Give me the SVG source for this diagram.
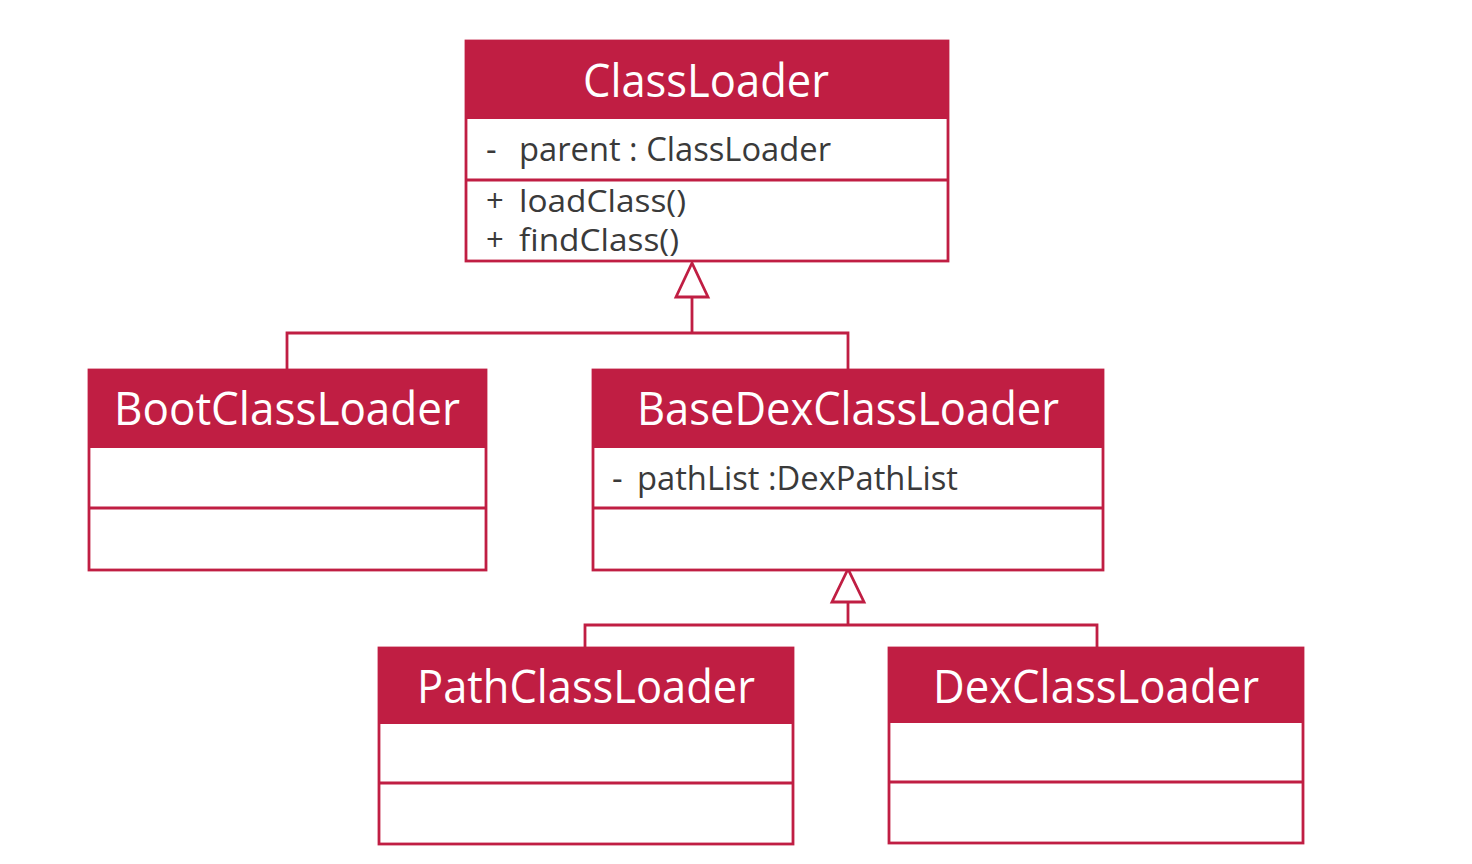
<svg xmlns="http://www.w3.org/2000/svg" width="1472" height="864" viewBox="0 0 1472 864">
<style>
.box{fill:#ffffff;stroke:#C01E43;stroke-width:2.8}
.hdr{fill:#C01E43}
.div{stroke:#C01E43;stroke-width:2.8}
.title{font-family:"Open Sans","Noto Sans",sans-serif;font-size:45px;fill:#ffffff;text-anchor:middle}
.attr{font-family:"Open Sans","Noto Sans",sans-serif;font-size:33px;fill:#3a3a3a}
.meth{font-family:"Open Sans","Noto Sans",sans-serif;font-size:31px;fill:#3a3a3a}
.conn{fill:none;stroke:#C01E43;stroke-width:2.8}
.tri{fill:#ffffff;stroke:#C01E43;stroke-width:2.8}
</style>
<rect width="1472" height="864" fill="#ffffff"/>
<g id="connectors">
<polyline class="conn" points="692,297 692,333"/>
<polyline class="conn" points="287,370 287,333 848,333 848,370"/>
<polygon class="tri" points="692,263 676,297 708,297"/>
<polyline class="conn" points="848,602 848,625"/>
<polyline class="conn" points="585,648 585,625 1097,625 1097,648"/>
<polygon class="tri" points="848,569 832,602 864,602"/>
</g>
<g id="ClassLoader">
<rect class="box" x="466" y="41" width="482" height="220"/>
<rect class="hdr" x="466" y="41" width="482" height="78"/>
<line class="div" x1="466" y1="180" x2="948" y2="180"/>
<text class="title" x="706" y="97" textLength="246" lengthAdjust="spacingAndGlyphs">ClassLoader</text>
<text class="attr" x="486" y="161">-</text>
<text class="attr" x="519" y="161" textLength="312" lengthAdjust="spacingAndGlyphs">parent : ClassLoader</text>
<text class="meth" x="486" y="212">+</text>
<text class="meth" x="519" y="212" textLength="167" lengthAdjust="spacingAndGlyphs">loadClass()</text>
<text class="meth" x="486" y="251">+</text>
<text class="meth" x="519" y="251" textLength="160" lengthAdjust="spacingAndGlyphs">findClass()</text>
</g>
<g id="BootClassLoader">
<rect class="box" x="89" y="370" width="397" height="200"/>
<rect class="hdr" x="89" y="370" width="397" height="78"/>
<line class="div" x1="89" y1="508" x2="486" y2="508"/>
<text class="title" x="287" y="425" textLength="346" lengthAdjust="spacingAndGlyphs">BootClassLoader</text>
</g>
<g id="BaseDexClassLoader">
<rect class="box" x="593" y="370" width="510" height="200"/>
<rect class="hdr" x="593" y="370" width="510" height="78"/>
<line class="div" x1="593" y1="508" x2="1103" y2="508"/>
<text class="title" x="848" y="425" textLength="422" lengthAdjust="spacingAndGlyphs">BaseDexClassLoader</text>
<text class="attr" x="612" y="490">-</text>
<text class="attr" x="637" y="490" textLength="321" lengthAdjust="spacingAndGlyphs">pathList :DexPathList</text>
</g>
<g id="PathClassLoader">
<rect class="box" x="379" y="648" width="414" height="196"/>
<rect class="hdr" x="379" y="648" width="414" height="76"/>
<line class="div" x1="379" y1="783" x2="793" y2="783"/>
<text class="title" x="586" y="703" textLength="338" lengthAdjust="spacingAndGlyphs">PathClassLoader</text>
</g>
<g id="DexClassLoader">
<rect class="box" x="889" y="648" width="414" height="195"/>
<rect class="hdr" x="889" y="648" width="414" height="75"/>
<line class="div" x1="889" y1="782" x2="1303" y2="782"/>
<text class="title" x="1096" y="703" textLength="326" lengthAdjust="spacingAndGlyphs">DexClassLoader</text>
</g>
</svg>
